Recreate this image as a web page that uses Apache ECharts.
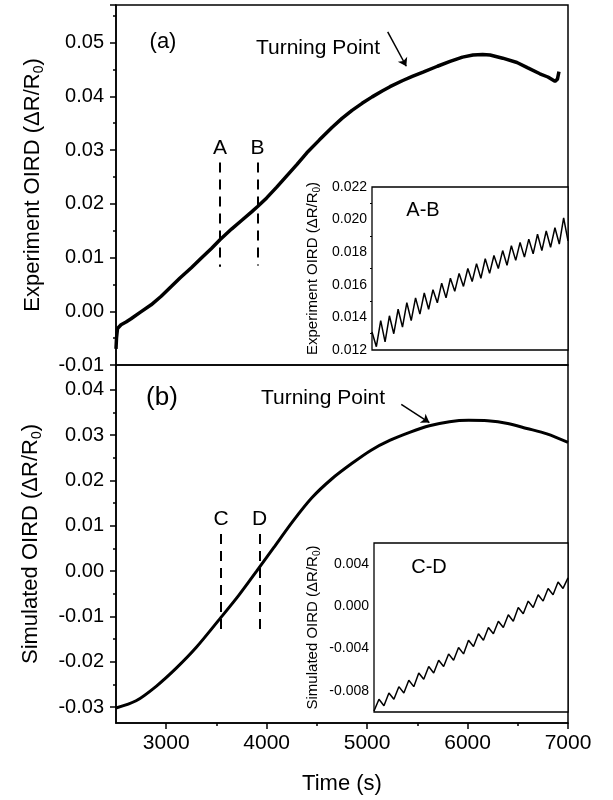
<!DOCTYPE html>
<html>
<head>
<meta charset="utf-8">
<title>OIRD</title>
<script src="https://cdn.jsdelivr.net/npm/echarts@6/dist/echarts.min.js"></script>
<style>
  html, body { margin: 0; padding: 0; background: #fff; }
  #chart { width: 613px; height: 800px; }
</style>
</head>
<body>
<div id="chart"></div>
<script>
// (a) experiment, time in s
var expTime = [2500, 2505, 2515, 2550, 2600, 2650, 2740, 2850, 2950, 3050, 3137, 3250, 3350, 3450, 3535, 3650, 3750, 3850, 3910, 4000, 4100, 4200, 4300, 4400, 4526, 4650, 4750, 4850, 4950, 5050, 5150, 5228, 5350, 5450, 5557, 5700, 5826, 5950, 6054, 6150, 6224, 6350, 6492, 6600, 6720, 6800, 6870, 6895, 6910];
var expVal = [-0.0070, -0.0050, -0.0032, -0.0025, -0.0020, -0.0014, -0.0002, 0.0012, 0.0028, 0.0046, 0.0062, 0.0081, 0.0099, 0.0117, 0.0133, 0.0153, 0.0169, 0.0185, 0.0195, 0.0211, 0.0231, 0.0252, 0.0273, 0.0295, 0.0319, 0.0342, 0.0359, 0.0374, 0.0387, 0.0399, 0.0410, 0.0418, 0.0429, 0.0437, 0.0445, 0.0456, 0.0465, 0.0473, 0.0477, 0.0478, 0.0477, 0.0471, 0.0463, 0.0453, 0.0442, 0.0436, 0.0428, 0.0432, 0.0446];

// (b) simulation
var simTime = [2500, 2700, 2900, 3100, 3300, 3545, 3720, 3900, 4070, 4260, 4450, 4650, 4850, 5040, 5230, 5430, 5620, 5820, 6010, 6200, 6400, 6590, 6790, 7000];
var simVal = [-0.0302, -0.0286, -0.0254, -0.0214, -0.0168, -0.0102, -0.0054, 0.0000, 0.0052, 0.0110, 0.0162, 0.0204, 0.0238, 0.0267, 0.0289, 0.0307, 0.0321, 0.0330, 0.0333, 0.0332, 0.0326, 0.0315, 0.0303, 0.0284];

// inset A-B (experiment, zoomed)
var abVal = [0.0131, 0.0122, 0.0138, 0.0125, 0.0141, 0.0130, 0.0145, 0.0134, 0.0149, 0.0138, 0.0152, 0.0142, 0.0155, 0.0145, 0.0157, 0.0149, 0.0161, 0.0152, 0.0164, 0.0156, 0.0167, 0.0159, 0.0170, 0.0162, 0.0173, 0.0164, 0.0176, 0.0167, 0.0178, 0.0170, 0.0181, 0.0172, 0.0184, 0.0175, 0.0186, 0.0177, 0.0188, 0.0179, 0.0191, 0.0181, 0.0193, 0.0183, 0.0195, 0.0185, 0.0201, 0.0187];

// inset C-D (simulation, zoomed)
var cdVal = [-0.0099, -0.0088, -0.0094, -0.0082, -0.0088, -0.0076, -0.0082, -0.0070, -0.0076, -0.0063, -0.0069, -0.0057, -0.0063, -0.0051, -0.0057, -0.0045, -0.0051, -0.0039, -0.0045, -0.0032, -0.0038, -0.0026, -0.0032, -0.0020, -0.0026, -0.0014, -0.0020, -0.0008, -0.0014, -0.0001, -0.0007, 0.0005, -0.0001, 0.0011, 0.0005, 0.0017, 0.0011, 0.0023, 0.0017, 0.0027];

// markers (s)
var markA = 3535, markB = 3910, markC = 3545, markD = 3930;

var xMajor = [3000, 4000, 5000, 6000, 7000];
var xMinor = [3500, 4500, 5500, 6500];
var yBotMajor = [-0.03, -0.02, -0.01, 0, 0.01, 0.02, 0.03, 0.04];
var yBotMinor = [-0.025, -0.015, -0.005, 0.005, 0.015, 0.025, 0.035];
var yCdMajor = [-0.008, -0.004, 0, 0.004];
var yCdMinor = [-0.006, -0.002, 0.002];

var FONT = "'Liberation Sans', Arial, sans-serif";

function pairs(xs, ys) {
  return xs.map(function (x, i) { return [x, ys[i]]; });
}
function idx(arr) {
  return arr.map(function (v, i) { return i; });
}
function nameRich(big, small) {
  return {
    fontFamily: FONT,
    color: "#000",
    rich: {
      a: { fontFamily: FONT, fontSize: big, color: "#000", lineHeight: big + 4 },
      s: { fontFamily: FONT, fontSize: small, color: "#000", lineHeight: small, verticalAlign: "bottom" }
    }
  };
}
var blackLine = { onZero: false, lineStyle: { color: "#000", width: 1.5 } };
var noLine = { show: false, onZero: false };
var arrowStyle = { color: "#000", width: 1.5, type: "solid" };

var option = {
  animation: false,
  backgroundColor: "#fff",
  textStyle: { fontFamily: FONT },
  grid: [
    { left: 116, top: 5, width: 452, height: 360, show: true, borderColor: "#000", borderWidth: 1.5, backgroundColor: "transparent" },
    { left: 116, top: 365, width: 452, height: 358, show: true, borderColor: "#000", borderWidth: 1.5, backgroundColor: "transparent" },
    { left: 372, top: 187, width: 196, height: 163, show: true, borderColor: "#000", borderWidth: 1.3, backgroundColor: "#fff", z: 5 },
    { left: 374, top: 543, width: 194, height: 169, show: true, borderColor: "#000", borderWidth: 1.3, backgroundColor: "#fff", z: 5 }
  ],
  xAxis: [
    { gridIndex: 0, type: "value", min: 2500, max: 7000, axisLine: noLine, axisTick: { show: false }, axisLabel: { show: false }, splitLine: { show: false } },
    {
      gridIndex: 1, type: "value", min: 2500, max: 7000, position: "bottom",
      axisLine: blackLine,
      axisTick: { customValues: xMajor, length: 6, lineStyle: { color: "#000", width: 1.5 } },
      axisLabel: { customValues: xMajor, fontSize: 21, color: "#000", margin: 10, fontFamily: FONT,
        formatter: function (v) { return String(v); } },
      splitLine: { show: false },
      name: "Time (s)", nameLocation: "middle", nameGap: 50,
      nameTextStyle: { fontSize: 22, color: "#000", fontFamily: FONT }
    },
    {
      gridIndex: 1, type: "value", min: 2500, max: 7000, position: "bottom",
      axisLine: noLine,
      axisTick: { customValues: xMinor, length: 3, lineStyle: { color: "#000", width: 1.5 } },
      axisLabel: { show: false }, splitLine: { show: false }
    },
    { gridIndex: 2, type: "category", data: idx(abVal), boundaryGap: false, show: false },
    { gridIndex: 3, type: "category", data: idx(cdVal), boundaryGap: false, show: false }
  ],
  yAxis: [
    {
      gridIndex: 0, type: "value", min: -0.01, max: 0.057, interval: 0.01, position: "left",
      axisLine: blackLine,
      axisTick: { length: 6, lineStyle: { color: "#000", width: 1.5 } },
      minorTick: { show: true, splitNumber: 2, length: 3, lineStyle: { color: "#000", width: 1.5 } },
      axisLabel: { showMaxLabel: false, fontSize: 20, color: "#000", margin: 12, fontFamily: FONT,
        formatter: function (v) { return v.toFixed(2); } },
      splitLine: { show: false },
      name: "{a|Experiment OIRD (ΔR/R}{s|0}{a|)}", nameLocation: "middle", nameGap: 70,
      nameTextStyle: nameRich(22, 14)
    },
    {
      gridIndex: 1, type: "value", min: -0.0335, max: 0.0455, position: "left",
      axisLine: blackLine,
      axisTick: { customValues: yBotMajor, length: 6, lineStyle: { color: "#000", width: 1.5 } },
      axisLabel: { customValues: yBotMajor, fontSize: 20, color: "#000", margin: 12, fontFamily: FONT,
        formatter: function (v) { return v.toFixed(2); } },
      splitLine: { show: false },
      name: "{a|Simulated OIRD (ΔR/R}{s|0}{a|)}", nameLocation: "middle", nameGap: 72,
      nameTextStyle: nameRich(22, 14)
    },
    {
      gridIndex: 1, type: "value", min: -0.0335, max: 0.0455, position: "left",
      axisLine: noLine,
      axisTick: { customValues: yBotMinor, length: 3, lineStyle: { color: "#000", width: 1.5 } },
      axisLabel: { show: false }, splitLine: { show: false }
    },
    {
      gridIndex: 2, type: "value", min: 0.012, max: 0.022, interval: 0.002, position: "left",
      axisLine: { onZero: false, lineStyle: { color: "#000", width: 1.3 } },
      axisTick: { length: 4, lineStyle: { color: "#000", width: 1.2 } },
      minorTick: { show: true, splitNumber: 2, length: 2, lineStyle: { color: "#000", width: 1 } },
      axisLabel: { fontSize: 14, color: "#000", margin: 5, fontFamily: FONT,
        formatter: function (v) { return v.toFixed(3); } },
      splitLine: { show: false },
      name: "{a|Experiment OIRD (ΔR/R}{s|0}{a|)}", nameLocation: "middle", nameGap: 50,
      nameTextStyle: nameRich(15, 10)
    },
    {
      gridIndex: 3, type: "value", min: -0.01, max: 0.006, position: "left",
      axisLine: { onZero: false, lineStyle: { color: "#000", width: 1.3 } },
      axisTick: { customValues: yCdMajor, length: 4, lineStyle: { color: "#000", width: 1.2 } },
      axisLabel: { customValues: yCdMajor, fontSize: 14, color: "#000", margin: 5, fontFamily: FONT,
        formatter: function (v) { return v.toFixed(3); } },
      splitLine: { show: false },
      name: "{a|Simulated OIRD (ΔR/R}{s|0}{a|)}", nameLocation: "middle", nameGap: 52,
      nameTextStyle: nameRich(15, 10)
    },
    {
      gridIndex: 3, type: "value", min: -0.01, max: 0.006, position: "left",
      axisLine: noLine,
      axisTick: { customValues: yCdMinor, length: 2, lineStyle: { color: "#000", width: 1 } },
      axisLabel: { show: false }, splitLine: { show: false }
    }
  ],
  series: [
    {
      type: "line", xAxisIndex: 0, yAxisIndex: 0,
      data: pairs(expTime, expVal), showSymbol: false,
      lineStyle: { color: "#000", width: 3.5 },
      markLine: {
        silent: true, symbol: ["none", "none"],
        lineStyle: { color: "#000", width: 2, type: [10, 7] },
        label: { show: true, position: "start", distance: 4, formatter: "{b}", fontSize: 21, color: "#000", fontFamily: FONT },
        data: [
          [{ name: "A", coord: [markA, 0.0277] }, { coord: [markA, 0.0083] }],
          [{ name: "B", coord: [markB, 0.0277] }, { coord: [markB, 0.0085] }],
          [{ name: "", coord: [5205, 0.0520], symbol: "none", lineStyle: arrowStyle, label: { show: false } },
           { coord: [5390, 0.0456], symbol: "arrow", symbolSize: 8, lineStyle: arrowStyle }]
        ]
      }
    },
    {
      type: "line", xAxisIndex: 1, yAxisIndex: 1, smooth: 0.3,
      data: pairs(simTime, simVal), showSymbol: false,
      lineStyle: { color: "#000", width: 3 },
      markLine: {
        silent: true, symbol: ["none", "none"],
        lineStyle: { color: "#000", width: 2, type: [10, 7] },
        label: { show: true, position: "start", distance: 4, formatter: "{b}", fontSize: 21, color: "#000", fontFamily: FONT },
        data: [
          [{ name: "C", coord: [markC, 0.0082] }, { coord: [markC, -0.0128] }],
          [{ name: "D", coord: [markD, 0.0082] }, { coord: [markD, -0.0128] }],
          [{ name: "", coord: [5340, 0.0368], symbol: "none", lineStyle: arrowStyle, label: { show: false } },
           { coord: [5620, 0.0328], symbol: "arrow", symbolSize: 8, lineStyle: arrowStyle }]
        ]
      }
    },
    {
      type: "line", xAxisIndex: 3, yAxisIndex: 3, z: 6,
      data: abVal, showSymbol: false,
      lineStyle: { color: "#000", width: 1.5 }
    },
    {
      type: "line", xAxisIndex: 4, yAxisIndex: 5, z: 6,
      data: cdVal, showSymbol: false,
      lineStyle: { color: "#000", width: 1.5 }
    }
  ],
  graphic: [
    { type: "text", x: 163, y: 42, z: 10, style: { text: "(a)", font: "22px " + FONT, fill: "#000", align: "center", verticalAlign: "middle" } },
    { type: "text", x: 318, y: 48, z: 10, style: { text: "Turning Point", font: "21px " + FONT, fill: "#000", align: "center", verticalAlign: "middle" } },
    { type: "text", x: 423, y: 210, z: 10, style: { text: "A-B", font: "20px " + FONT, fill: "#000", align: "center", verticalAlign: "middle" } },
    { type: "text", x: 162, y: 398, z: 10, style: { text: "(b)", font: "26px " + FONT, fill: "#000", align: "center", verticalAlign: "middle" } },
    { type: "text", x: 323, y: 398, z: 10, style: { text: "Turning Point", font: "21px " + FONT, fill: "#000", align: "center", verticalAlign: "middle" } },
    { type: "text", x: 429, y: 567, z: 10, style: { text: "C-D", font: "20px " + FONT, fill: "#000", align: "center", verticalAlign: "middle" } }
  ]
};

var chart = echarts.init(document.getElementById("chart"));
chart.setOption(option);
</script>
</body>
</html>
